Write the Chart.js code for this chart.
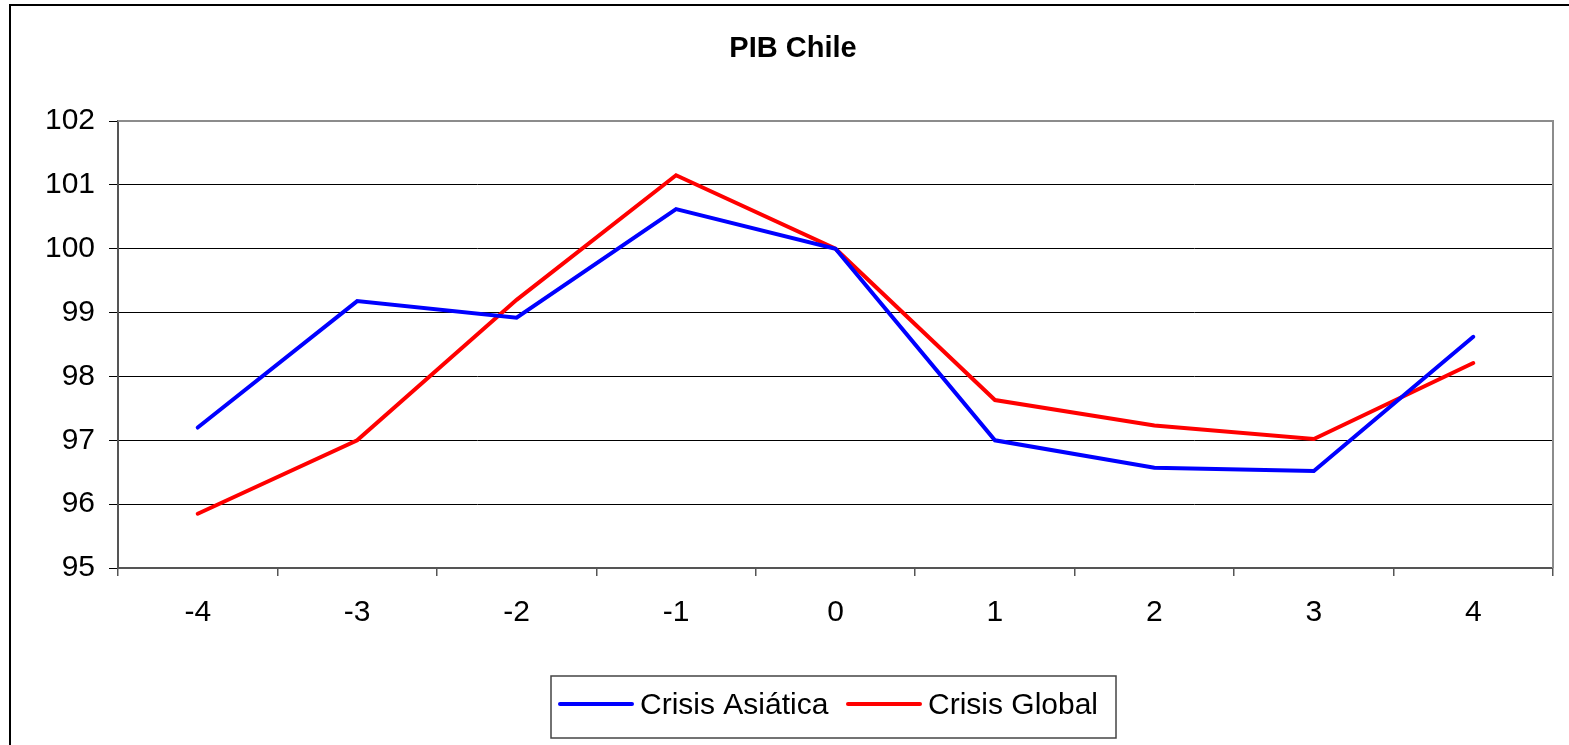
<!DOCTYPE html>
<html>
<head>
<meta charset="utf-8">
<script src="https://cdn.jsdelivr.net/npm/chart.js@4.4.0/dist/chart.umd.min.js"></script>
<style>
    html, body { margin: 0; padding: 0; background: #fff; overflow: hidden; }
    #wrap { position: relative; width: 1569px; height: 745px; }
</style>
</head>
<body>
<div id="wrap"><canvas id="pibChart"></canvas></div>
<script>
// Data
const periods = ['-4', '-3', '-2', '-1', '0', '1', '2', '3', '4'];
const crisisAsiatica = [97.2, 99.18, 98.92, 100.62, 100, 97.0, 96.57, 96.52, 98.62];
const crisisGlobal = [95.85, 97.0, 99.2, 101.15, 100, 97.63, 97.23, 97.02, 98.21];
const yTicks = [95, 96, 97, 98, 99, 100, 101, 102];

const chartTitle = 'PIB Chile';
const fontFamily = "'Liberation Sans', Arial, sans-serif";

Chart.defaults.font.family = fontFamily;
Chart.defaults.font.size = 30;
Chart.defaults.color = '#000';

// Frame, title, plot border and legend box (Excel style)
const excelLook = {
    id: 'excelLook',
    beforeDatasetsDraw(chart) {
        const ctx = chart.ctx;
        const a = chart.chartArea;
        ctx.save();
        ctx.strokeStyle = '#8c8c8c';
        ctx.lineWidth = 2;
        ctx.beginPath();
        ctx.moveTo(a.left, a.top);
        ctx.lineTo(a.right, a.top);
        ctx.lineTo(a.right, a.bottom);
        ctx.stroke();
        ctx.restore();
    },
    afterDraw(chart) {
        const ctx = chart.ctx;
        ctx.save();

        // outer chart frame (only left and top visible)
        ctx.strokeStyle = '#000';
        ctx.lineWidth = 2;
        ctx.beginPath();
        ctx.moveTo(10, 745);
        ctx.lineTo(10, 5);
        ctx.lineTo(1569, 5);
        ctx.stroke();

        // title
        ctx.fillStyle = '#000';
        ctx.font = 'bold 29px ' + fontFamily;
        ctx.textAlign = 'center';
        ctx.textBaseline = 'alphabetic';
        ctx.fillText(chartTitle, 793, 57);

        // legend box
        ctx.strokeStyle = '#444';
        ctx.lineWidth = 1.5;
        ctx.strokeRect(551, 676, 565, 62);

        const starts = [560, 848];
        ctx.font = '30px ' + fontFamily;
        ctx.textAlign = 'left';
        chart.data.datasets.forEach((ds, i) => {
            const x = starts[i];
            ctx.strokeStyle = ds.borderColor;
            ctx.lineWidth = 4;
            ctx.lineCap = 'round';
            ctx.beginPath();
            ctx.moveTo(x, 704);
            ctx.lineTo(x + 72, 704);
            ctx.stroke();
            ctx.fillStyle = '#000';
            ctx.fillText(ds.label, x + 80, 714);
        });
        ctx.restore();
    }
};

const ctx = document.getElementById('pibChart').getContext('2d');
const pibChart = new Chart(ctx, {
    type: 'line',
    data: {
        labels: periods,
        datasets: [{
            label: 'Crisis Asiática',
            data: crisisAsiatica,
            borderColor: '#0000ff',
            borderWidth: 4,
            borderCapStyle: 'round',
            pointRadius: 0,
            tension: 0,
            fill: false
        }, {
            label: 'Crisis Global',
            data: crisisGlobal,
            borderColor: '#ff0000',
            borderWidth: 4,
            borderCapStyle: 'round',
            pointRadius: 0,
            tension: 0,
            fill: false
        }]
    },
    options: {
        responsive: true,
        maintainAspectRatio: false,
        animation: false,
        layout: {
            padding: { top: 121, left: 10, right: 16, bottom: 117 }
        },
        plugins: {
            legend: { display: false },
            title: { display: false },
            tooltip: { enabled: false }
        },
        scales: {
            x: {
                offset: true,
                grid: {
                    offset: true,
                    drawOnChartArea: false,
                    drawTicks: true,
                    tickLength: 8,
                    color: '#555',
                    lineWidth: 1.5
                },
                border: { display: true, color: '#555', width: 2 },
                ticks: { padding: 19, maxRotation: 0, autoSkip: false },
                afterFit(scale) { scale.height = 60; }
            },
            y: {
                min: 95,
                max: 102,
                afterBuildTicks(scale) {
                    scale.ticks = yTicks.map(v => ({ value: v }));
                },
                grid: {
                    color: '#000',
                    lineWidth: 1,
                    tickLength: 9,
                    drawTicks: true
                },
                border: { display: true, color: '#555', width: 2 },
                ticks: { padding: 14 },
                afterFit(scale) { scale.width = 108; }
            }
        }
    },
    plugins: [excelLook]
});
</script>
</body>
</html>
